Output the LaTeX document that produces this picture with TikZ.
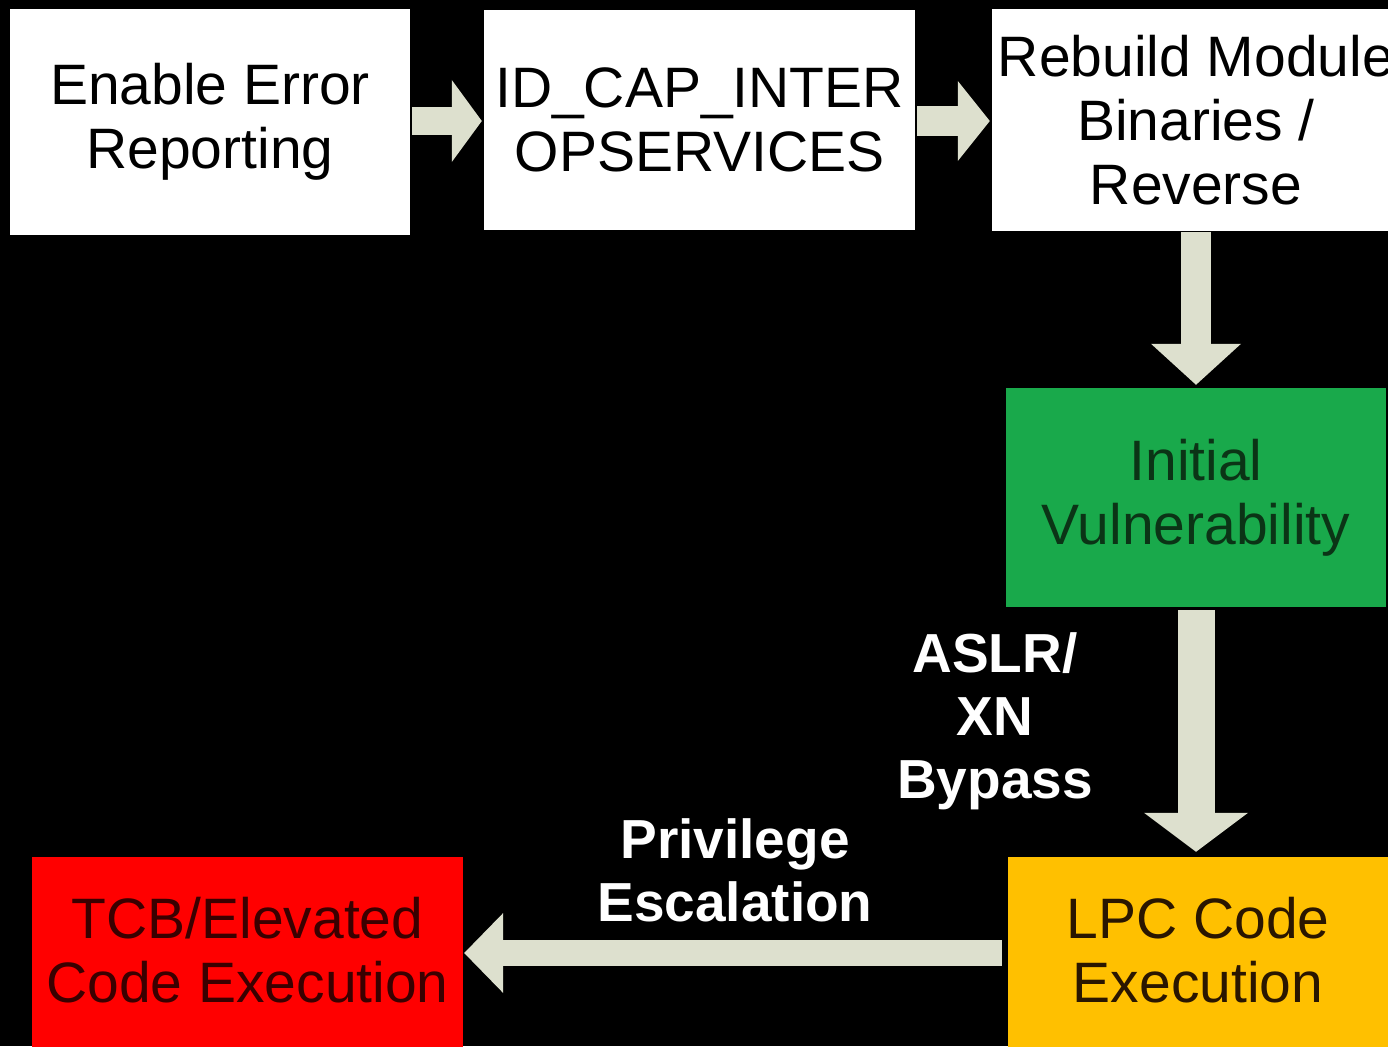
\documentclass[tikz,border=0pt]{standalone}
\usepackage{fontspec}
\setmainfont{Liberation Sans}
\usetikzlibrary{arrows.meta}
\definecolor{arrowc}{HTML}{DDE0CE}
\definecolor{boxgreen}{HTML}{19A94B}
\definecolor{boxorange}{HTML}{FFC000}
\definecolor{boxred}{HTML}{FF0000}
\definecolor{txtgreen}{HTML}{0B3416}
\definecolor{txtorange}{HTML}{2A1600}
\definecolor{txtred}{HTML}{3A0000}
\tikzset{
  stepbox/.style={inner sep=0pt, align=center, font=\fontsize{57}{64}\selectfont},
  lbl/.style={inner sep=0pt, align=center, text=white, font=\fontsize{55}{63}\selectfont\bfseries},
  fatarrow/.style={draw=arrowc, line width=#1},
}
\begin{document}
\begin{tikzpicture}[x=1pt,y=-1pt]
\useasboundingbox (0,0) rectangle (1388,1046);
\clip (0,0) rectangle (1388,1046);
\fill[black] (0,0) rectangle (1388,1046);

\node[stepbox, fill=white, minimum width=400pt, minimum height=226pt] (b1) at (210,122) {Enable Error\\Reporting};
\node[stepbox, fill=white, minimum width=431pt, minimum height=220pt] (b2) at (699.5,120) {ID\_CAP\_INTER\\OPSERVICES};
\node[stepbox, fill=white, minimum width=408pt, minimum height=221pt] (b3) at (1196,120) {Rebuild Module\\Binaries /\\Reverse};
\node[stepbox, fill=boxgreen, text=txtgreen, minimum width=380pt, minimum height=219pt] (b4) at (1196,497.5) {Initial\\Vulnerability};
\node[stepbox, fill=boxorange, text=txtorange, minimum width=380pt, minimum height=186pt] (b5) at (1198,950) {LPC Code\\Execution};
\node[stepbox, fill=boxred, text=txtred, minimum width=431pt, minimum height=186pt] (b6) at (247.5,950) {TCB/Elevated\\Code Execution};
\fill[boxorange] (b5.south west) rectangle ([yshift=-10pt]b5.south east);
\fill[boxred] (b6.south west) rectangle ([yshift=-10pt]b6.south east);

\draw[fatarrow=28pt, -{Triangle[length=30pt,width=82pt,line width=0pt]}, shorten <=2pt, shorten >=2pt] (b1.east |- 0,121) -- (b2.west |- 0,121);
\draw[fatarrow=29pt, -{Triangle[length=32pt,width=80pt,line width=0pt]}, shorten <=2pt, shorten >=2pt] (b2.east |- 0,121) -- (b3.west |- 0,121);
\draw[fatarrow=30pt, -{Triangle[length=41pt,width=90pt,line width=0pt]}, shorten <=1pt, shorten >=3pt] (b3.south) -- (b4.north);
\draw[fatarrow=37pt, -{Triangle[length=39pt,width=104pt,line width=0pt]}, shorten <=3pt, shorten >=5pt] (b4.south) -- (b4.south |- b5.north);
\draw[fatarrow=26pt, -{Triangle[length=39pt,width=80pt,line width=0pt]}, shorten <=6pt, shorten >=1pt] ([yshift=-3pt]b5.west) -- ([yshift=-3pt]b6.east);

\node[lbl] (l1) at (995,721) {ASLR/\\XN\\Bypass};
\node[lbl] (l2) at (735,870) {Privilege\\Escalation};
\end{tikzpicture}
\end{document}
